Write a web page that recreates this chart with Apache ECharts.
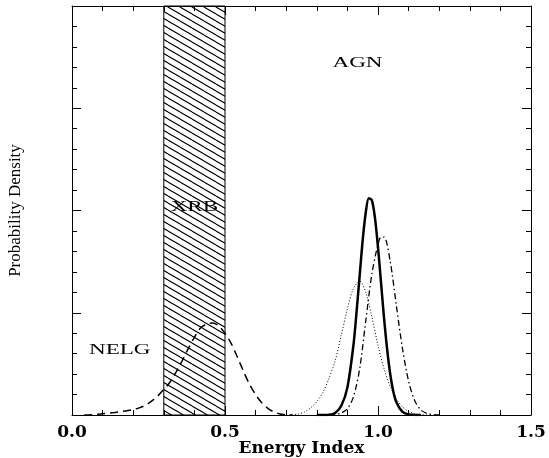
<!DOCTYPE html>
<html><head><meta charset="utf-8">
<script src="https://cdn.jsdelivr.net/npm/echarts@6/dist/echarts.min.js"></script>
<style>html,body{margin:0;padding:0;background:#fff}#c{width:549px;height:458px}</style>
</head><body><div id="c"></div>
<script>
// ---- data ----
const xTickLabels = ['0.0', '0.5', '1.0', '1.5'];
const xrbRange = [0.3, 0.5];

const nelgX = [0.04,0.06,0.08,0.10,0.12,0.14,0.16,0.18,0.20,0.22,0.24,0.26,0.28,0.30,0.32,0.34,0.36,0.38,0.40,0.42,0.44,0.46,0.48,0.50,0.52,0.54,0.56,0.58,0.60,0.62,0.64,0.66,0.68,0.70,0.72];
const nelgY = [0,0.002,0.006,0.012,0.018,0.025,0.033,0.042,0.053,0.07,0.095,0.135,0.185,0.25,0.32,0.42,0.53,0.65,0.76,0.85,0.89,0.90,0.87,0.80,0.70,0.57,0.43,0.30,0.20,0.12,0.065,0.03,0.01,0.002,0];

const dottedX = [0.70,0.72,0.74,0.76,0.78,0.80,0.82,0.84,0.86,0.88,0.90,0.92,0.94,0.96,0.98,1.00,1.02,1.04,1.06,1.08,1.10,1.12,1.14,1.16];
const dottedY = [0,0.003,0.01,0.03,0.07,0.13,0.22,0.36,0.53,0.78,1.04,1.24,1.31,1.20,0.96,0.68,0.45,0.28,0.16,0.08,0.035,0.012,0.003,0];

const solidX = [0.80,0.84,0.86,0.88,0.90,0.92,0.93,0.94,0.95,0.96,0.97,0.98,0.99,1.00,1.01,1.02,1.03,1.04,1.05,1.06,1.08,1.10,1.12,1.14];
const solidY = [0,0.003,0.02,0.09,0.27,0.69,1.01,1.36,1.71,1.98,2.12,2.10,1.93,1.64,1.29,0.94,0.64,0.40,0.23,0.125,0.03,0.006,0.001,0];

const dashdotX = [0.84,0.86,0.88,0.90,0.92,0.94,0.96,0.98,1.00,1.01,1.02,1.04,1.06,1.08,1.10,1.12,1.14,1.16,1.18,1.20];
const dashdotY = [0,0.005,0.02,0.06,0.18,0.45,0.92,1.38,1.67,1.74,1.74,1.50,1.07,0.65,0.33,0.14,0.05,0.015,0.004,0];

const annotations = [
  { text: 'NELG', x: 0.156, y: 0.636 },
  { text: 'XRB',  x: 0.400, y: 2.034 },
  { text: 'AGN',  x: 0.933, y: 3.443 }
];

// ---- chart ----
function zip(xs, ys) { return xs.map((x, i) => [x, ys[i]]); }
function hatchTile() {
  const c = document.createElement('canvas');
  c.width = 12; c.height = 7;
  const g = c.getContext('2d');
  g.strokeStyle = '#000'; g.lineWidth = 1.1;
  for (let k = -1; k <= 1; k++) {
    g.beginPath(); g.moveTo(0, k * 7); g.lineTo(12, k * 7 + 7); g.stroke();
  }
  return c;
}

const chart = echarts.init(document.getElementById('c'), null, { renderer: 'canvas' });
const axLine = { show: true, onZero: false, lineStyle: { color: '#000', width: 1 } };
function xAx(pos, labels) {
  return {
    type: 'value', position: pos, min: 0, max: 1.5, interval: 0.5,
    axisLine: axLine,
    axisTick: { show: true, inside: true, length: 9, lineStyle: { color: '#000' } },
    minorTick: { show: true, splitNumber: 5, length: 5, lineStyle: { color: '#000' } },
    splitLine: { show: false }, minorSplitLine: { show: false },
    axisLabel: labels ? {
      show: true, margin: 9, color: '#000',
      fontFamily: 'DejaVu Serif', fontWeight: 'bold', fontSize: 17,
      formatter: v => xTickLabels[Math.round(v / 0.5)]
    } : { show: false },
    name: labels ? 'Energy Index' : '',
    nameLocation: 'middle', nameGap: 25, nameMoveOverlap: false,
    nameTextStyle: { color: '#000', fontFamily: 'DejaVu Serif', fontWeight: 'bold', fontSize: 17 }
  };
}
function yAx(pos, named) {
  return {
    type: 'value', position: pos, min: 0, max: 4, interval: 1,
    axisLine: axLine,
    axisTick: { show: true, inside: true, length: 9, lineStyle: { color: '#000' } },
    minorTick: { show: true, splitNumber: 5, length: 5, lineStyle: { color: '#000' } },
    splitLine: { show: false }, minorSplitLine: { show: false },
    axisLabel: { show: false },
    name: named ? 'Probability Density' : '',
    nameLocation: 'middle', nameGap: 48, nameRotate: 90, nameMoveOverlap: false,
    nameTextStyle: { color: '#000', fontFamily: 'Liberation Serif', fontSize: 17 }
  };
}

chart.setOption({
  animation: false,
  backgroundColor: '#fff',
  grid: { left: 72, right: 18, top: 6, bottom: 43, containLabel: false, outerBoundsMode: 'none' },
  xAxis: [xAx('bottom', true), xAx('top', false)],
  yAxis: [yAx('left', true), yAx('right', false)],
  series: [
    {
      name: 'XRB', type: 'line', z: 1, silent: true,
      data: [[xrbRange[0], 0], [xrbRange[1], 0]],
      showSymbol: false, lineStyle: { width: 0, opacity: 0 },
      markArea: {
        silent: true,
        itemStyle: { color: { image: hatchTile(), repeat: 'repeat' }, borderColor: '#000', borderWidth: 1 },
        data: [[{ xAxis: xrbRange[0], yAxis: 0 }, { xAxis: xrbRange[1], yAxis: 4 }]]
      }
    },
    {
      name: 'NELG', type: 'line', z: 3, data: zip(nelgX, nelgY), showSymbol: false, smooth: 0.3,
      lineStyle: { color: '#000', width: 1.5, type: [8, 5] }
    },
    {
      name: 'dotted', type: 'line', z: 3, data: zip(dottedX, dottedY), showSymbol: false, smooth: 0.3,
      lineStyle: { color: '#000', width: 1, type: [1, 2] }
    },
    {
      name: 'solid', type: 'line', z: 3, data: zip(solidX, solidY), showSymbol: false, smooth: 0.3,
      lineStyle: { color: '#000', width: 2.5 }
    },
    {
      name: 'dashdot', type: 'line', z: 3, data: zip(dashdotX, dashdotY), showSymbol: false, smooth: 0.3,
      lineStyle: { color: '#000', width: 1.3, type: [6, 3, 1.5, 3] }
    }
  ]
});

const graphics = annotations.map(a => {
  const p = chart.convertToPixel({ xAxisIndex: 0, yAxisIndex: 0 }, [a.x, a.y]);
  return {
    type: 'text', x: p[0], y: p[1], scaleX: 1.65, z: 10,
    style: {
      text: a.text, fill: '#000', font: '14px "Liberation Serif"',
      align: 'center', verticalAlign: 'middle', textAlign: 'center', textVerticalAlign: 'middle'
    }
  };
});
chart.setOption({ graphic: graphics });
</script>
</body></html>
